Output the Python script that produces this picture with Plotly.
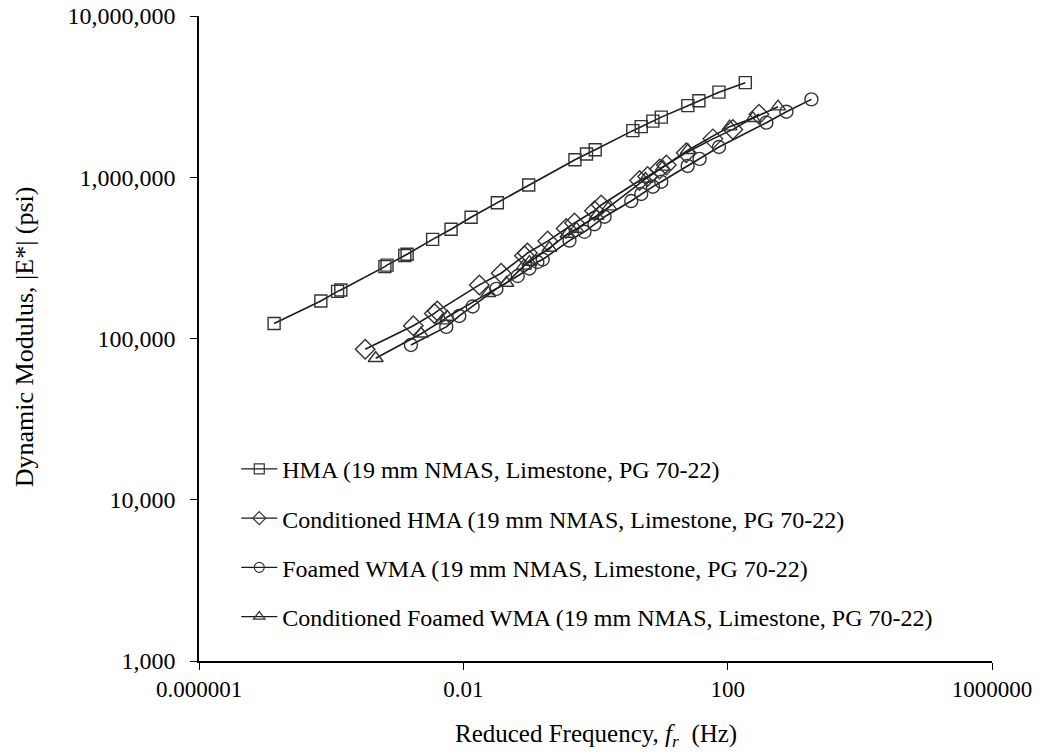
import plotly.graph_objects as go

# ---- data ----
hma_f = [1.37e-5, 6.98e-5, 1.25e-4, 1.40e-4, 6.5e-4, 7.0e-4, 1.30e-3, 1.41e-3, 3.43e-3, 6.52e-3,
         0.0131, 0.0327, 0.0975, 0.489, 0.731, 0.99, 3.67, 4.92, 7.38, 9.9, 25.0, 36.7, 73.8, 185.0]
hma_E = [124000, 171000, 196000, 200000, 279000, 285000, 327000, 333000, 412000, 476000,
         565000, 695000, 895000, 1285000, 1394000, 1480000, 1945000, 2060000, 2230000, 2360000,
         2780000, 2980000, 3370000, 3860000]

chma_f = [3.27e-4, 1.75e-3, 3.64e-3, 4.04e-3, 0.01746, 0.0373, 0.084, 0.0933, 0.189, 0.36, 0.481,
          0.966, 1.22, 4.64, 6.14, 9.33, 11.8, 23.6, 59.8, 120.0, 298.0]
chma_E = [85700, 120000, 143000, 148000, 215000, 254000, 326000, 339000, 402000, 481000, 520000,
          620000, 673000, 955000, 1010000, 1125000, 1190000, 1420000, 1730000, 1980000, 2460000]

fwma_f = [1.61e-3, 5.52e-3, 8.69e-3, 0.01384, 0.0316, 0.0665, 0.1, 0.132, 0.159, 0.404, 0.681,
          0.966, 1.37, 3.47, 4.92, 7.38, 9.89, 24.8, 37.6, 73.8, 385.0, 774.0, 1850.0]
fwma_E = [91200, 118000, 138000, 158000, 203000, 244000, 272000, 298000, 309000, 405000, 459000,
          511000, 569000, 712000, 787000, 874000, 938000, 1175000, 1300000, 1540000, 2180000,
          2550000, 3040000]

cfwma_f = [4.72e-4, 2.29e-3, 4.81e-3, 5.73e-3, 0.0239, 0.0449, 0.0826, 0.1, 0.201, 0.377, 0.515,
           1.035, 1.63, 5.72, 10.5, 25.0, 107.0, 241.0, 578.0]
cfwma_E = [75400, 107000, 129000, 136000, 191000, 221000, 282000, 298000, 364000, 445000, 478000,
           575000, 657000, 976000, 1160000, 1470000, 2060000, 2320000, 2740000]

names = ["HMA (19 mm NMAS, Limestone, PG 70-22)",
         "Conditioned HMA (19 mm NMAS, Limestone, PG 70-22)",
         "Foamed WMA (19 mm NMAS, Limestone, PG 70-22)",
         "Conditioned Foamed WMA (19 mm NMAS, Limestone, PG 70-22)"]

x_tickvals = [1e-6, 1e-2, 1e2, 1e6]
x_ticktext = ["0.000001", "0.01", "100", "1000000"]
y_tickvals = [1e3, 1e4, 1e5, 1e6, 1e7]
y_ticktext = ["1,000", "10,000", "100,000", "1,000,000", "10,000,000"]

x_title = "Reduced Frequency, <i>f<sub>r</sub></i>  (Hz)"
y_title = "Dynamic Modulus, |E*| (psi)"

FONT = "Liberation Serif, Times New Roman, serif"
LINE = "#1a1a1a"
MK = "#333333"

series = [
    (hma_f, hma_E, "square-open", 12),
    (chma_f, chma_E, "diamond-open", 15),
    (fwma_f, fwma_E, "circle-open", 13),
    (cfwma_f, cfwma_E, "triangle-up-open", 13),
]

fig = go.Figure()
for i, ((xs, ys, sym, sz), nm) in enumerate(zip(series, names)):
    pts = sorted(zip(xs, ys))
    fig.add_trace(go.Scatter(
        x=[p[0] for p in pts], y=[p[1] for p in pts],
        mode="lines+markers", name=nm, showlegend=False,
        line=dict(color=LINE, width=1.6),
        marker=dict(symbol=sym, size=sz, color=MK, line=dict(color=MK, width=1.4)),
    ))
# legend-only entries with smaller symbols
for i, ((xs, ys, sym, sz), nm) in enumerate(zip(series, names)):
    fig.add_trace(go.Scatter(
        x=[None], y=[None], mode="lines+markers", name=nm, legendgroup=str(i),
        line=dict(color=LINE, width=1.3),
        marker=dict(symbol=sym, size=10, color=MK, line=dict(color=MK, width=1.2)),
    ))

fig.update_layout(
    width=1040, height=753,
    margin=dict(l=199, r=48, t=16, b=92),
    paper_bgcolor="white", plot_bgcolor="white",
    font=dict(family=FONT, size=24, color="black"),
    showlegend=True,
    legend=dict(x=0.047, y=0.332, xanchor="left", yanchor="top",
                bgcolor="rgba(0,0,0,0)", font=dict(family=FONT, size=24, color="black"),
                tracegroupgap=15, itemwidth=36),
    xaxis=dict(type="log", range=[-6, 6], tickvals=x_tickvals, ticktext=x_ticktext,
               showgrid=False, zeroline=False, showline=True, linecolor="black", linewidth=1.5,
               ticks="outside", ticklen=7, tickwidth=1.2, tickcolor="black",
               tickfont=dict(family=FONT, size=23), automargin=False),
    yaxis=dict(type="log", range=[3, 7], tickvals=y_tickvals, ticktext=y_ticktext,
               showgrid=False, zeroline=False, showline=True, linecolor="black", linewidth=1.5,
               ticks="outside", ticklen=7, tickwidth=1.2, tickcolor="black",
               tickfont=dict(family=FONT, size=24), ticklabelstandoff=10, automargin=False),
    annotations=[
        dict(text=x_title, xref="paper", yref="paper", x=0.5, y=(661 - 735) / 645,
             xanchor="center", yanchor="middle", showarrow=False,
             font=dict(family=FONT, size=25)),
        dict(text=y_title, xref="paper", yref="paper", x=(24 - 199) / 793, y=0.502,
             xanchor="center", yanchor="middle", showarrow=False, textangle=-90,
             font=dict(family=FONT, size=26)),
    ],
)

fig.write_html("out.html")
